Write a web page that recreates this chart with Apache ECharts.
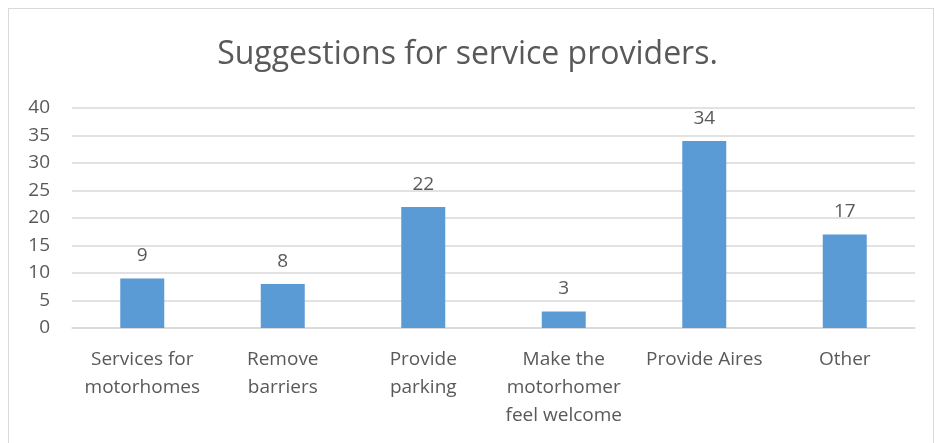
<!DOCTYPE html>
<html>
<head>
<meta charset="utf-8">
<script src="https://cdn.jsdelivr.net/npm/echarts@6/dist/echarts.min.js"></script>
<style>
  html, body { margin: 0; padding: 0; background: #fff; }
  #chart { width: 935px; height: 443px; }
  #frame { position: absolute; left: 8px; top: 8px; width: 924px; height: 450px; border: 1px solid #d9d9d9; pointer-events: none; }
</style>
</head>
<body>
<div id="chart"></div>
<div id="frame"></div>
<script>
  // chart data
  const categories = [
    'Services for\nmotorhomes',
    'Remove\nbarriers',
    'Provide\nparking',
    'Make the\nmotorhomer\nfeel welcome',
    'Provide Aires',
    'Other'
  ];
  const counts = [9, 8, 22, 3, 34, 17];
  const yTicks = { min: 0, max: 40, step: 5 };

  const textColor = '#595959';
  const font = '"Open Sans", "Liberation Sans", sans-serif';

  const chart = echarts.init(document.getElementById('chart'));
  chart.setOption({
    animation: false,
    title: {
      text: 'Suggestions for service providers.',
      left: 'center',
      top: 34,
      textStyle: { color: textColor, fontSize: 32, fontWeight: 'normal', fontFamily: font }
    },
    grid: { left: 72, right: 20, top: 108, bottom: 115, containLabel: false },
    xAxis: {
      type: 'category',
      data: categories,
      axisLine: { lineStyle: { color: '#d9d9d9', width: 1.5 } },
      axisTick: { show: false },
      axisLabel: {
        color: textColor, fontSize: 19, fontFamily: font, lineHeight: 28,
        margin: 18, interval: 0
      }
    },
    yAxis: {
      type: 'value',
      min: yTicks.min,
      max: yTicks.max,
      interval: yTicks.step,
      axisLine: { show: false },
      axisTick: { show: false },
      splitLine: { lineStyle: { color: '#d9d9d9', width: 1.5 } },
      axisLabel: { color: textColor, fontSize: 19, fontFamily: font, margin: 22 }
    },
    series: [{
      type: 'bar',
      data: counts,
      barWidth: 44,
      itemStyle: { color: '#5b9bd5' },
      label: {
        show: true, position: 'top', distance: 13,
        color: textColor, fontSize: 19, fontFamily: font
      }
    }]
  });
</script>
</body>
</html>
